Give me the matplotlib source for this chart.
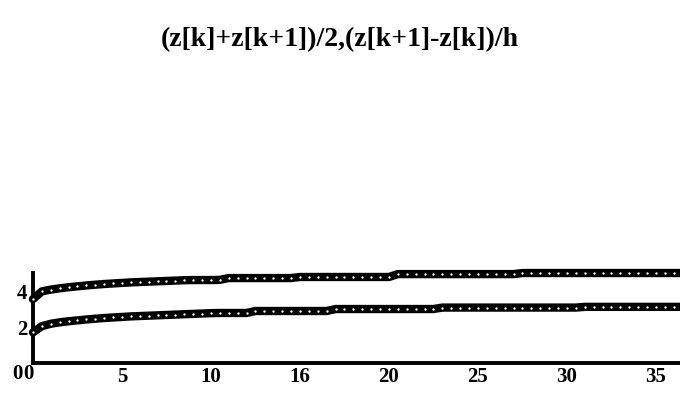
import numpy as np
import matplotlib
matplotlib.use("Agg")
import matplotlib.pyplot as plt

x_vals = np.arange(0, 37, 0.5)

upper_vals = [3.55, 3.98, 4.08, 4.15, 4.21, 4.26, 4.31, 4.35, 4.39, 4.42,
              4.45, 4.48, 4.50, 4.52, 4.54, 4.56, 4.58, 4.60, 4.61, 4.61,
              4.61, 4.62, 4.72, 4.72, 4.72, 4.72, 4.72, 4.72, 4.72, 4.72,
              4.78, 4.78, 4.78, 4.78, 4.78, 4.78, 4.78, 4.78, 4.78, 4.78,
              4.78, 4.94, 4.94, 4.94, 4.94, 4.94, 4.94, 4.94, 4.94, 4.94,
              4.94, 4.94, 4.94, 4.94, 4.94, 5.00, 5.00, 5.00, 5.00, 5.00,
              5.00, 5.00, 5.00, 5.00, 5.00, 5.00, 5.00, 5.00, 5.00, 5.00,
              5.00, 5.00, 5.00, 5.00]

lower_vals = [1.70, 2.05, 2.18, 2.26, 2.32, 2.37, 2.42, 2.46, 2.50, 2.53,
              2.56, 2.59, 2.61, 2.63, 2.65, 2.67, 2.69, 2.71, 2.73, 2.75,
              2.77, 2.78, 2.78, 2.78, 2.78, 2.89, 2.89, 2.89, 2.89, 2.89,
              2.89, 2.89, 2.89, 2.89, 3.00, 3.00, 3.00, 3.00, 3.00, 3.00,
              3.00, 3.00, 3.00, 3.00, 3.00, 3.00, 3.08, 3.08, 3.08, 3.08,
              3.08, 3.08, 3.08, 3.08, 3.08, 3.08, 3.08, 3.08, 3.08, 3.08,
              3.08, 3.08, 3.12, 3.12, 3.12, 3.12, 3.12, 3.12, 3.12, 3.12,
              3.12, 3.12, 3.12, 3.12]

x_ticks = [5, 10, 15, 20, 25, 30, 35]
x_tick_labels = ["5", "10", "16", "20", "25", "30", "35"]
y_ticks = [2, 4]
y_tick_labels = ["2", "4"]

title = "(z[k]+z[k+1])/2,(z[k+1]-z[k])/h"

plt.rc("font", family="Liberation Serif", weight="bold")

fig = plt.figure(figsize=(6.8, 3.97), dpi=100)
ax = fig.add_axes([0.0485, 0.0856, 0.9515, 0.2267])

for vals in (upper_vals, lower_vals):
    ax.plot(x_vals, vals, color="black", lw=6, solid_capstyle="round",
            marker="o", ms=1.7, mfc="white", mec="white", mew=0,
            clip_on=False, zorder=3)

ax.set_xlim(0, 36.35)
ax.set_ylim(0, 5)

for side in ("top", "right"):
    ax.spines[side].set_visible(False)
ax.spines["left"].set_linewidth(2.8)
ax.spines["bottom"].set_linewidth(2.8)

ax.set_xticks(x_ticks)
ax.set_xticklabels(x_tick_labels)
ax.set_yticks(y_ticks)
ax.set_yticklabels(y_tick_labels)
ax.tick_params(axis="both", length=0, labelsize=15, pad=3)
ax.tick_params(axis="y", pad=4)

# the two zeros at the origin
ax.text(-0.87, -0.05, "0", transform=ax.transData, ha="center", va="top",
        fontsize=15, fontweight="bold", clip_on=False)
ax.text(-0.28, -0.05, "0", transform=ax.transData, ha="center", va="top",
        fontsize=15, fontweight="bold", clip_on=False)

fig.text(0.5, 1 - 40 / 397, title, ha="center", va="center",
         fontsize=20, fontweight="bold")

fig.savefig("out.png", dpi=100)
